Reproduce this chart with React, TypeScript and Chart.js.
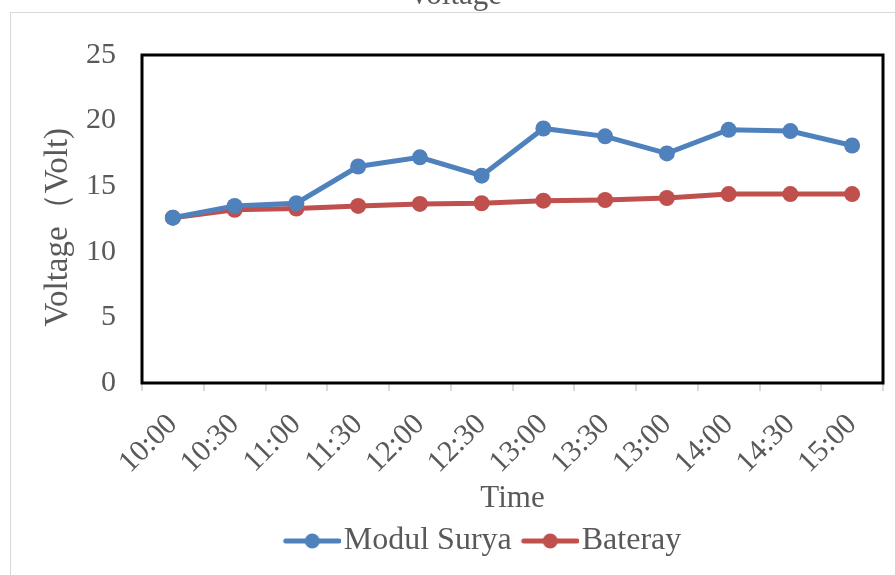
import React, { useEffect, useRef } from 'react';
import { Chart, registerables } from 'chart.js';

Chart.register(...registerables);

const categories = ['10:00', '10:30', '11:00', '11:30', '12:00', '12:30', '13:00', '13:30', '13:00', '14:00', '14:30', '15:00'];
const modulSurya = [12.6, 13.5, 13.7, 16.5, 17.2, 15.8, 19.4, 18.8, 17.5, 19.3, 19.2, 18.1];
const bateray = [12.6, 13.2, 13.3, 13.5, 13.65, 13.7, 13.9, 13.95, 14.1, 14.4, 14.4, 14.4];
const yMin = 0;
const yMax = 25;
const yStep = 5;

const BLUE = '#4F81BD';
const RED = '#C0504D';
const TEXT = '#595959';
const FONT = "'Liberation Serif', 'Times New Roman', serif";

function legendImage(color: string): HTMLCanvasElement {
  const c = document.createElement('canvas');
  c.width = 70;
  c.height = 18;
  const g = c.getContext('2d')!;
  g.strokeStyle = color;
  g.lineWidth = 5;
  g.lineCap = 'round';
  g.beginPath();
  g.moveTo(15, 9);
  g.lineTo(68, 9);
  g.stroke();
  g.fillStyle = color;
  g.beginPath();
  g.arc(41.5, 9, 7.5, 0, Math.PI * 2);
  g.fill();
  return c;
}

const framePlugin = {
  id: 'frame',
  beforeDraw(chart: any) {
    const { ctx, width, height } = chart;
    ctx.save();
    ctx.fillStyle = '#ffffff';
    ctx.fillRect(0, 0, width, height);
    ctx.strokeStyle = '#d9d9d9';
    ctx.lineWidth = 1;
    ctx.strokeRect(10.5, 12.5, width + 20, height + 20);
    ctx.fillStyle = TEXT;
    ctx.font = `31px ${FONT}`;
    ctx.textAlign = 'center';
    ctx.textBaseline = 'alphabetic';
    ctx.fillText('Voltage', 455, 4);
    ctx.restore();
  },
  beforeDatasetsDraw(chart: any) {
    const { ctx, chartArea } = chart;
    ctx.save();
    ctx.strokeStyle = '#000000';
    ctx.lineWidth = 3;
    ctx.strokeRect(chartArea.left, chartArea.top, chartArea.right - chartArea.left, chartArea.bottom - chartArea.top);
    ctx.restore();
  },
};

export default function App() {
  const ref = useRef<HTMLCanvasElement | null>(null);

  useEffect(() => {
    document.body.style.margin = '0';
    const canvas = ref.current!;
    const images: Record<string, HTMLCanvasElement> = {
      'Modul Surya': legendImage(BLUE),
      Bateray: legendImage(RED),
    };
    const chart = new Chart(canvas, {
      type: 'line',
      data: {
        labels: categories,
        datasets: [
          {
            label: 'Modul Surya',
            data: modulSurya,
            borderColor: BLUE,
            backgroundColor: BLUE,
            borderWidth: 5,
            pointRadius: 8,
            pointBackgroundColor: BLUE,
            pointBorderColor: BLUE,
            pointBorderWidth: 0,
            tension: 0,
          },
          {
            label: 'Bateray',
            data: bateray,
            borderColor: RED,
            backgroundColor: RED,
            borderWidth: 5,
            pointRadius: 8,
            pointBackgroundColor: RED,
            pointBorderColor: RED,
            pointBorderWidth: 0,
            tension: 0,
          },
        ],
      },
      options: {
        responsive: false,
        animation: false,
        layout: { padding: { top: 55, right: 12, bottom: 8, left: 82 } },
        plugins: {
          title: { display: false },
          tooltip: { enabled: false },
          legend: {
            position: 'bottom',
            labels: {
              usePointStyle: true,
              pointStyleWidth: 44,
              padding: 10,
              color: TEXT,
              font: { family: FONT, size: 32 },
              generateLabels(ch: any) {
                return ch.data.datasets.map((ds: any, i: number) => ({
                  text: ds.label,
                  fillStyle: ds.borderColor,
                  strokeStyle: ds.borderColor,
                  lineWidth: 0,
                  pointStyle: images[ds.label],
                  hidden: false,
                  datasetIndex: i,
                  fontColor: TEXT,
                }));
              },
            },
          },
        },
        scales: {
          x: {
            type: 'category',
            offset: true,
            grid: {
              display: true,
              drawOnChartArea: false,
              drawTicks: true,
              tickLength: 8,
              color: '#d9d9d9',
              lineWidth: 2,
              offset: true,
            },
            border: { display: false },
            ticks: {
              autoSkip: false,
              minRotation: 45,
              maxRotation: 45,
              padding: 16,
              color: TEXT,
              font: { family: FONT, size: 30 },
            },
            title: {
              display: true,
              text: 'Time',
              color: TEXT,
              font: { family: FONT, size: 31 },
              padding: { top: 0, bottom: -2 },
            },
            afterFit(scale: any) {
              const lh = scale.chart.legend ? scale.chart.legend.height : 0;
              scale.height = 575 - 383 - lh - 8;
            },
          },
          y: {
            min: yMin,
            max: yMax,
            grid: { display: false, drawTicks: false },
            border: { display: false },
            ticks: {
              stepSize: yStep,
              padding: 26,
              color: TEXT,
              font: { family: FONT, size: 30 },
            },
            title: {
              display: true,
              text: 'Voltage（Volt)  ',
              color: TEXT,
              font: { family: FONT, size: 33 },
              padding: { top: -43, bottom: 0 },
            },
            afterFit(scale: any) {
              scale.width = 142 - 82;
            },
          },
        },
      },
      plugins: [framePlugin],
    });
    return () => chart.destroy();
  }, []);

  return <canvas ref={ref} width={895} height={575} style={{ display: 'block' }} />;
}
